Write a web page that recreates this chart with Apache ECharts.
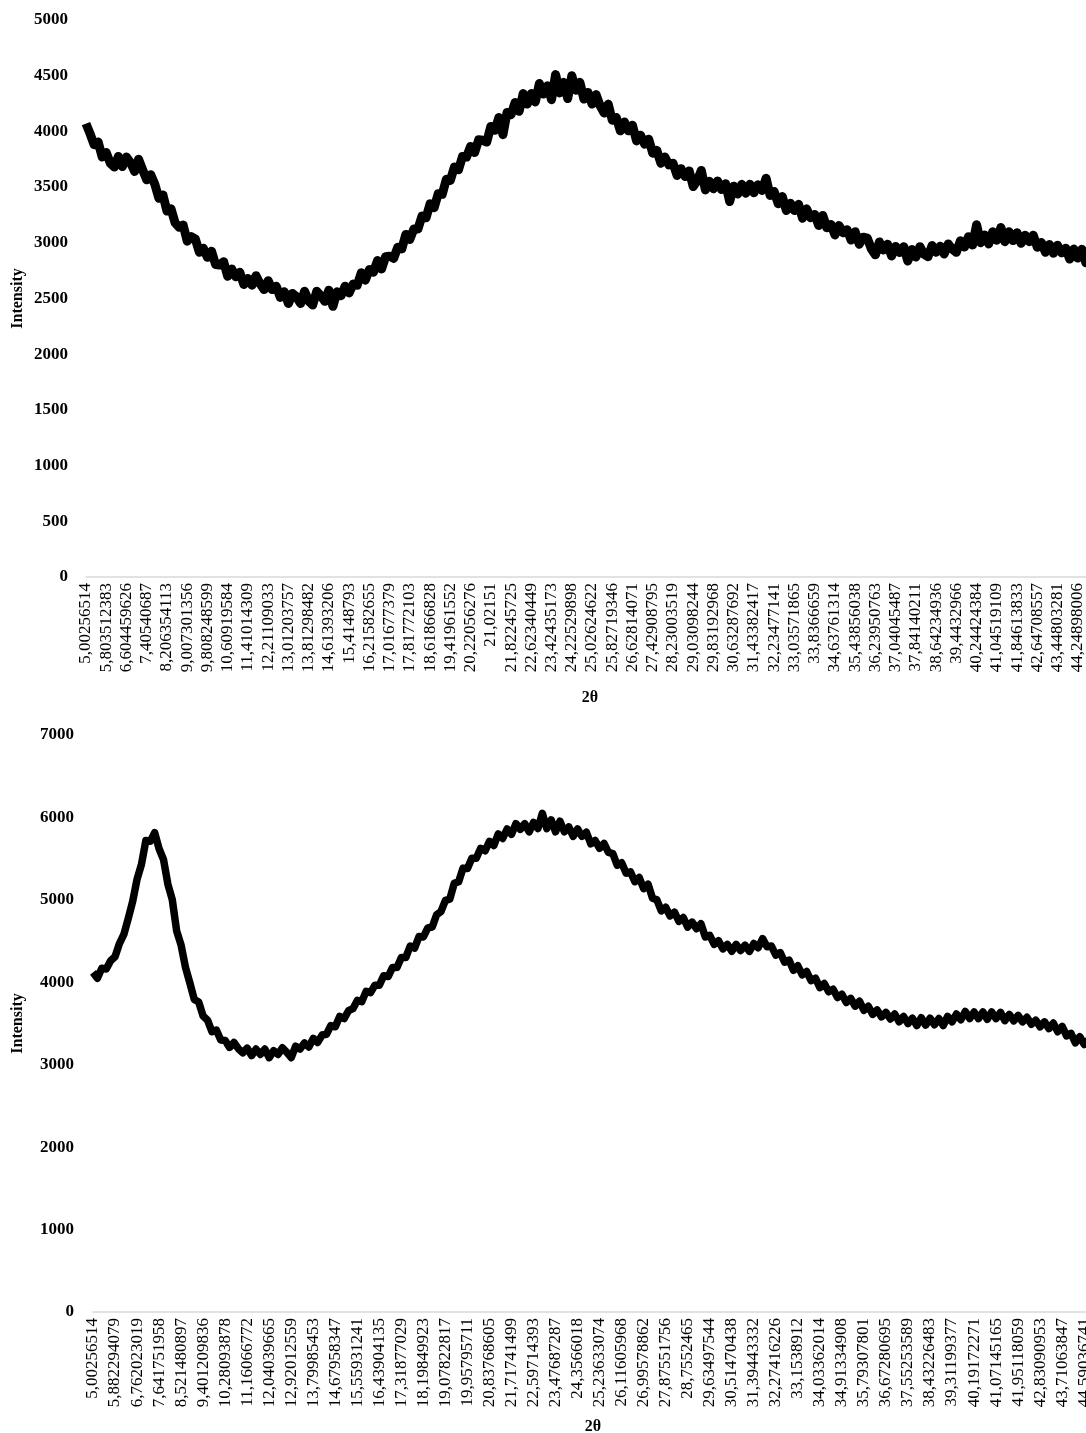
<!DOCTYPE html>
<html>
<head>
<meta charset="utf-8">
<title>XRD</title>
<script src="https://cdn.jsdelivr.net/npm/echarts@6/dist/echarts.min.js"></script>
<style>
  html, body { margin: 0; padding: 0; background: #fff; }
  #chart { width: 1086px; height: 1433px; }
</style>
</head>
<body>
<div id="chart"></div>
<script>
// tick labels shown on the 2θ axis (every 5th sample)
const tickLabelsTop = ['5,00256514', '5,803512383', '6,604459626', '7,40540687', '8,206354113', '9,007301356',
  '9,808248599', '10,60919584', '11,41014309', '12,21109033', '13,01203757', '13,81298482', '14,61393206',
  '15,4148793', '16,21582655', '17,01677379', '17,81772103', '18,61866828', '19,41961552', '20,22056276',
  '21,02151', '21,82245725', '22,62340449', '23,42435173', '24,22529898', '25,02624622', '25,82719346',
  '26,62814071', '27,42908795', '28,23003519', '29,03098244', '29,83192968', '30,63287692', '31,43382417',
  '32,23477141', '33,03571865', '33,8366659', '34,63761314', '35,43856038', '36,23950763', '37,04045487',
  '37,84140211', '38,64234936', '39,4432966', '40,24424384', '41,04519109', '41,84613833', '42,64708557',
  '43,44803281', '44,24898006']

const intensityTop = [
  4070, 3980, 3880, 3905, 3770, 3810, 3715, 3680, 3775, 3685,
  3770, 3720, 3640, 3750, 3655, 3565, 3610, 3525, 3400, 3430,
  3285, 3305, 3180, 3140, 3160, 3015, 3055, 3035, 2915, 2950,
  2870, 2925, 2805, 2800, 2830, 2700, 2765, 2695, 2735, 2625,
  2680, 2620, 2705, 2632, 2580, 2660, 2580, 2610, 2510, 2560,
  2455, 2545, 2515, 2455, 2565, 2478, 2442, 2565, 2525, 2475,
  2575, 2430, 2560, 2525, 2610, 2550, 2630, 2620, 2730, 2665,
  2760, 2735, 2840, 2765, 2875, 2880, 2860, 2960, 2945, 3075,
  3030, 3125, 3125, 3240, 3225, 3350, 3315, 3440, 3435, 3570,
  3560, 3680, 3655, 3775, 3770, 3865, 3810, 3925, 3920, 3905,
  4045, 4010, 4125, 3970, 4170, 4150, 4260, 4180, 4340, 4245,
  4340, 4265, 4430, 4335, 4410, 4285, 4510, 4345, 4440, 4295,
  4500, 4370, 4440, 4290, 4350, 4245, 4330, 4230, 4165, 4245,
  4100, 4125, 4005, 4085, 4005, 4055, 3915, 3965, 3885, 3930,
  3805, 3830, 3715, 3770, 3700, 3715, 3605, 3665, 3595, 3645,
  3505, 3560, 3650, 3475, 3552, 3485, 3555, 3478, 3530, 3370,
  3508, 3438, 3525, 3445, 3525, 3450, 3520, 3470, 3580, 3425,
  3460, 3350, 3415, 3290, 3355, 3290, 3345, 3220, 3305, 3225,
  3255, 3155, 3245, 3135, 3165, 3070, 3155, 3090, 3118, 3025,
  3100, 2988, 3050, 3042, 2945, 2892, 3008, 2935, 2988, 2882,
  2967, 2913, 2965, 2837, 2940, 2872, 2965, 2898, 2875, 2975,
  2915, 2970, 2900, 2990, 2942, 2915, 3018, 2962, 3055, 2980,
  3163, 3000, 3070, 2990, 3100, 3023, 3137, 3010, 3100, 3020,
  3090, 2995, 3068, 3010, 3068, 2960, 3002, 2915, 2985, 2906,
  2977, 2910, 2952, 2854, 2944, 2863, 2942, 2820, 2890, 2810
]

const tickLabelsBottom = ['5,00256514', '5,882294079', '6,762023019', '7,641751958', '8,521480897', '9,401209836',
  '10,28093878', '11,16066772', '12,04039665', '12,92012559', '13,79985453', '14,67958347', '15,55931241',
  '16,43904135', '17,31877029', '18,19849923', '19,07822817', '19,95795711', '20,83768605', '21,71741499',
  '22,59714393', '23,47687287', '24,3566018', '25,23633074', '26,11605968', '26,99578862', '27,87551756',
  '28,7552465', '29,63497544', '30,51470438', '31,39443332', '32,27416226', '33,1538912', '34,03362014',
  '34,91334908', '35,79307801', '36,67280695', '37,55253589', '38,43226483', '39,31199377', '40,19172271',
  '41,07145165', '41,95118059', '42,83090953', '43,71063847', '44,59036741']

const intensityBottom = [
  4120, 4050, 4170, 4160, 4260, 4310, 4470, 4580, 4775, 4980,
  5250, 5430, 5720, 5710, 5815, 5620, 5490, 5190, 5000, 4620,
  4450, 4180, 3990, 3790, 3760, 3590, 3540, 3400, 3420, 3300,
  3295, 3210, 3270, 3195, 3145, 3200, 3110, 3190, 3125, 3190,
  3085, 3170, 3125, 3205, 3150, 3085, 3225, 3190, 3265, 3215,
  3320, 3270, 3360, 3370, 3475, 3460, 3585, 3560, 3655, 3680,
  3780, 3765, 3890, 3875, 3965, 3965, 4080, 4070, 4180, 4180,
  4300, 4300, 4440, 4415, 4555, 4550, 4660, 4670, 4820, 4860,
  4995, 5010, 5200, 5220, 5385, 5380, 5505, 5505, 5625, 5595,
  5710, 5660, 5800, 5745, 5860, 5795, 5925, 5855, 5925, 5825,
  5940, 5865, 6050, 5865, 5970, 5825, 5955, 5825, 5885, 5770,
  5860, 5770, 5820, 5680, 5720, 5625, 5685, 5575, 5560, 5420,
  5450, 5325, 5340, 5220, 5270, 5135, 5190, 5020, 5000, 4865,
  4910, 4805, 4850, 4740, 4785, 4670, 4730, 4650, 4710, 4550,
  4570, 4460, 4505, 4405, 4460, 4375, 4460, 4385, 4450, 4375,
  4470, 4420, 4530, 4430, 4440, 4330, 4360, 4245, 4270, 4145,
  4200, 4090, 4130, 4020, 4050, 3935, 3985, 3885, 3915, 3815,
  3855, 3755, 3805, 3710, 3770, 3660, 3710, 3610, 3665, 3580,
  3635, 3555, 3615, 3520, 3585, 3500, 3565, 3475, 3570, 3480,
  3565, 3485, 3560, 3475, 3585, 3520, 3615, 3545, 3645, 3560,
  3640, 3560, 3640, 3550, 3640, 3560, 3635, 3535, 3610, 3532,
  3597, 3520, 3575, 3490, 3540, 3460, 3520, 3438, 3505, 3400,
  3465, 3350, 3380, 3265, 3340, 3245, 3300, 3215
]

const pointsPerTick = 5

// category names: tick labels on every 5th sample, the 2θ value in between
function buildCategories(ticks, count) {
  const nums = ticks.map(t => parseFloat(t.replace(',', '.')))
  const step = (nums[nums.length - 1] - nums[0]) / (nums.length - 1) / pointsPerTick
  const cats = []
  for (let i = 0; i < count; i++) {
    const k = i / pointsPerTick
    if (i % pointsPerTick === 0 && k < ticks.length) cats.push(ticks[k])
    else cats.push((nums[0] + i * step).toFixed(8).replace('.', ','))
  }
  return cats
}

const catsTop = buildCategories(tickLabelsTop, intensityTop.length)
const catsBottom = buildCategories(tickLabelsBottom, intensityBottom.length)

const serif = 'Liberation Serif'

function xAxisFor(gridIndex, cats, nameGap) {
  return {
    type: 'category',
    gridIndex: gridIndex,
    data: cats,
    boundaryGap: false,
    name: '2θ',
    nameLocation: 'middle',
    nameGap: nameGap,
    nameTextStyle: { color: '#000', fontFamily: serif, fontWeight: 'bold', fontSize: 16 },
    axisLine: { show: true, lineStyle: { color: '#d9d9d9', width: 1.5 } },
    axisTick: { show: false },
    splitLine: { show: false },
    axisLabel: {
      interval: pointsPerTick - 1,
      rotate: 90,
      margin: 6,
      color: '#000',
      fontFamily: serif,
      fontSize: 17
    }
  }
}

function yAxisFor(gridIndex, max, interval, nameGap, margin) {
  return {
    type: 'value',
    gridIndex: gridIndex,
    min: 0,
    max: max,
    interval: interval,
    name: 'Intensity',
    nameLocation: 'middle',
    nameGap: nameGap,
    nameMoveOverlap: false,
    nameTextStyle: { color: '#000', fontFamily: serif, fontWeight: 'bold', fontSize: 16 },
    axisLine: { show: false },
    axisTick: { show: false },
    splitLine: { show: false },
    axisLabel: {
      margin: margin,
      color: '#000',
      fontFamily: serif,
      fontWeight: 'bold',
      fontSize: 17,
      formatter: v => String(v)
    }
  }
}

const chart = echarts.init(document.getElementById('chart'))
const option = {
  animation: false,
  backgroundColor: '#fff',
  grid: [
    { left: 86, top: 20, width: 1008, height: 557, outerBoundsMode: 'none' },
    { left: 93, top: 735, width: 1000, height: 577, outerBoundsMode: 'none' }
  ],
  xAxis: [
    xAxisFor(0, catsTop, 113),
    xAxisFor(1, catsBottom, 107)
  ],
  yAxis: [
    yAxisFor(0, 5000, 500, 60, 18),
    yAxisFor(1, 7000, 1000, 67, 19)
  ],
  series: [
    {
      type: 'line',
      xAxisIndex: 0,
      yAxisIndex: 0,
      data: intensityTop,
      showSymbol: false,
      lineStyle: { color: '#000', width: 9, join: 'round' },
      itemStyle: { color: '#000' }
    },
    {
      type: 'line',
      xAxisIndex: 1,
      yAxisIndex: 1,
      data: intensityBottom,
      showSymbol: false,
      lineStyle: { color: '#000', width: 7.5, join: 'round' },
      itemStyle: { color: '#000' }
    }
  ]
}
chart.setOption(option, true)
</script>
</body>
</html>
